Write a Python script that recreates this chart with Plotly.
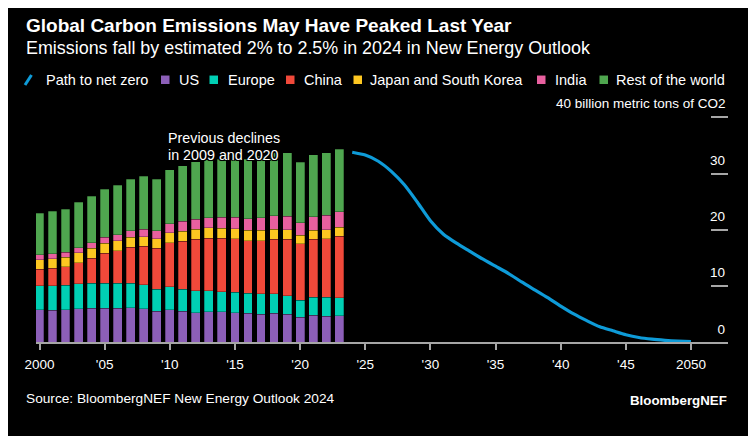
import plotly.graph_objects as go

# ---------------- data ----------------
years_hist = list(range(2000, 2024))
us = [5.74, 5.62, 5.74, 5.92, 6.04, 6.04, 5.98, 6.09, 5.92, 5.50, 5.74, 5.50,
      5.21, 5.38, 5.38, 5.21, 5.09, 4.97, 5.15, 4.91, 4.38, 4.73, 4.56, 4.67]
europe = [4.26, 4.38, 4.38, 4.50, 4.44, 4.44, 4.50, 4.38, 4.26, 3.91, 4.08, 3.91,
          3.91, 3.79, 3.61, 3.61, 3.61, 3.67, 3.49, 3.37, 3.02, 3.20, 3.37, 3.25]
china = [2.96, 3.14, 3.31, 3.73, 4.44, 5.33, 5.74, 6.39, 6.92, 7.28, 7.87, 8.58,
         9.17, 9.29, 9.47, 9.59, 9.35, 9.41, 9.70, 10.00, 10.06, 10.36, 10.47, 10.95]
japan_korea = [1.66, 1.72, 1.66, 1.78, 1.78, 1.78, 1.78, 1.78, 1.66, 1.72, 1.78, 1.72,
               1.78, 1.89, 1.83, 1.78, 1.83, 1.83, 1.78, 1.72, 1.60, 1.60, 1.60, 1.60]
india = [0.89, 0.83, 0.89, 0.89, 1.00, 1.07, 1.12, 1.18, 1.36, 1.42, 1.60, 1.78,
         1.78, 1.78, 1.89, 2.01, 2.07, 2.25, 2.37, 2.43, 2.19, 2.43, 2.60, 2.72]
rest_of_world = [7.40, 7.57, 7.69, 8.05, 8.28, 8.52, 8.82, 9.17, 9.41, 9.17, 9.64, 9.94,
                 10.24, 10.37, 10.42, 10.30, 10.65, 10.97, 11.21, 11.27, 10.75, 11.07, 11.07, 11.12]

years_path = list(range(2024, 2051))
net_zero_path = [33.8, 33.3, 32.2, 30.4, 28.0, 24.9, 21.6, 19.2, 17.6, 16.2, 14.8, 13.5,
                 12.2, 10.7, 9.3, 7.9, 6.4, 5.0, 3.8, 2.7, 2.0, 1.3, 0.8, 0.5, 0.3, 0.15, 0.05]

x_tickvals = list(range(2000, 2051, 5))
x_ticktext = ["2000", "'05", "'10", "'15", "'20", "'25", "'30", "'35", "'40", "'45", "2050"]
y_tickvals = [0, 10, 20, 30, 40]
y_ticktext = ["0", "10", "20", "30", ""]
y_unit_label = "40 billion metric tons of CO2"

series_names = ["US", "Europe", "China", "Japan and South Korea", "India", "Rest of the world"]
series_values = [us, europe, china, japan_korea, india, rest_of_world]
series_colors = ["#8c5fb8", "#00cfb4", "#f0493a", "#fdc721", "#e8609f", "#4fa64f"]
line_color = "#0e9bd8"

FONT = "Liberation Sans, Arial, sans-serif"
OFF = 8  # page body margin
W, H = 756 - OFF, 436 - OFF
ML, MR, MT, MB = 28, 28, 87, 93.5
Y_TOP = 44

def px_x(px):
    return (px - OFF - ML) / (W - ML - MR)

def px_y(py):
    return (H - MB - (py - OFF)) / (H - MT - MB)

fig = go.Figure()
for name, vals, col in zip(series_names, series_values, series_colors):
    fig.add_trace(go.Bar(
        x=years_hist, y=vals, name=name, width=0.68,
        marker=dict(color=col, line=dict(color="rgba(0,0,0,0.35)", width=0.8)),
        showlegend=False,
    ))

fig.add_trace(go.Scatter(
    x=years_path, y=net_zero_path, mode="lines", name="Path to net zero",
    line=dict(color=line_color, width=3.2, shape="spline", smoothing=0.6),
    showlegend=False,
))

# x range so that 2000 sits at page pixel 39.5 and 2050 at 691
ppy = (691 - 39.5) / 50
x0 = 2000 - (39.5 - OFF - ML) / ppy
x1 = x0 + (W - ML - MR) / ppy

annotations = []
shapes = []

# Title / subtitle
annotations.append(dict(text="<b>Global Carbon Emissions May Have Peaked Last Year</b>",
                        xref="paper", yref="paper", x=px_x(24), y=px_y(25),
                        xanchor="left", yanchor="middle", showarrow=False,
                        font=dict(family=FONT, size=19, color="#ffffff")))
annotations.append(dict(text="Emissions fall by estimated 2% to 2.5% in 2024 in New Energy Outlook",
                        xref="paper", yref="paper", x=px_x(24), y=px_y(47.5),
                        xanchor="left", yanchor="middle", showarrow=False,
                        font=dict(family=FONT, size=17.9, color="#ffffff")))

# Custom legend
leg_y = 80
LEG_FS = 14.5
shapes.append(dict(type="line", xref="paper", yref="paper",
                   x0=px_x(25), y0=px_y(85), x1=px_x(31.5), y1=px_y(75),
                   line=dict(color=line_color, width=3)))
annotations.append(dict(text="Path to net zero", xref="paper", yref="paper",
                        x=px_x(43.5), y=px_y(leg_y), xanchor="left", yanchor="middle",
                        showarrow=False, font=dict(family=FONT, size=LEG_FS, color="#ffffff")))
square_left = [161, 209.5, 286, 353.5, 537, 599.5]
text_left = [176.5, 226, 301.5, 368, 552.5, 613.5]
for name, col, sq, tx in zip(series_names, series_colors, square_left, text_left):
    shapes.append(dict(type="rect", xref="paper", yref="paper",
                       x0=px_x(sq), x1=px_x(sq + 8.5), y0=px_y(84), y1=px_y(75.5),
                       fillcolor=col, line=dict(width=0)))
    annotations.append(dict(text=name, xref="paper", yref="paper",
                            x=px_x(tx), y=px_y(leg_y), xanchor="left", yanchor="middle",
                            showarrow=False, font=dict(family=FONT, size=LEG_FS, color="#ffffff")))

# Unit label on the top tick of the value axis
annotations.append(dict(text=y_unit_label, xref="paper", yref="y",
                        x=1.0, y=40, xanchor="right", yanchor="bottom", yshift=4,
                        showarrow=False, font=dict(family=FONT, size=13.5, color="#ffffff")))

# Note (two lines)
note_shadow = "-1px -1px 0 #000, 1px -1px 0 #000, -1px 1px 0 #000, 1px 1px 0 #000, 0 0 2px #000"
note_x = 2000 + (166 - 39.5) / ppy
for txt, cy in [("Previous declines", 138.3), ("in 2009 and 2020", 155)]:
    annotations.append(dict(text=txt, xref="x", yref="paper",
                            x=note_x, y=px_y(cy), xanchor="left", yanchor="middle",
                            align="left", showarrow=False,
                            font=dict(family=FONT, size=14.3, color="#ffffff", shadow=note_shadow)))

# Footer
annotations.append(dict(text="Source: BloombergNEF New Energy Outlook 2024", xref="paper", yref="paper",
                        x=px_x(24), y=px_y(399.5), xanchor="left", yanchor="middle",
                        showarrow=False, font=dict(family=FONT, size=13.7, color="#ffffff")))
annotations.append(dict(text="<b>BloombergNEF</b>", xref="paper", yref="paper",
                        x=px_x(729), y=px_y(401), xanchor="right", yanchor="middle",
                        showarrow=False, font=dict(family=FONT, size=13.3, color="#ffffff")))

fig.update_layout(
    width=W, height=H,
    margin=dict(l=ML, r=MR, t=MT, b=MB, pad=0),
    paper_bgcolor="#000000", plot_bgcolor="#000000",
    barmode="stack", bargap=0.32,
    font=dict(family=FONT, size=13.5, color="#ffffff"),
    showlegend=False,
    annotations=annotations, shapes=shapes,
    xaxis=dict(range=[x0, x1], tickvals=x_tickvals, ticktext=x_ticktext,
               showgrid=False, zeroline=False, showline=True, linecolor="#a6a6a6",
               linewidth=1.5, ticks="outside", ticklen=6, tickcolor="#a6a6a6",
               tickwidth=1.5, tickfont=dict(family=FONT, size=13.5, color="#ffffff"),
               ticklabelstandoff=3),
    yaxis=dict(range=[0, Y_TOP], side="right", tickvals=y_tickvals, ticktext=y_ticktext,
               showgrid=False, zeroline=False, showline=False,
               ticks="inside", ticklen=17, tickcolor="#a6a6a6", tickwidth=1.5,
               ticklabelposition="inside top", ticklabelshift=-3,
               tickfont=dict(family=FONT, size=13.5, color="#ffffff")),
)

fig.write_html("out.html")
